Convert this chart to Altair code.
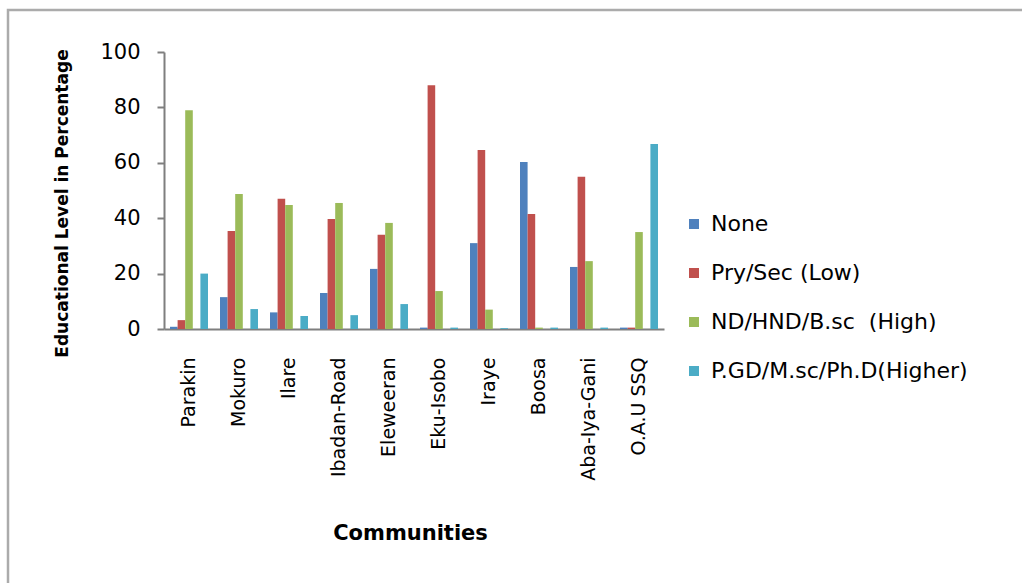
import altair as alt
import pandas as pd

communities = ["Parakin", "Mokuro", "Ilare", "Ibadan-Road", "Eleweeran",
               "Eku-Isobo", "Iraye", "Boosa", "Aba-Iya-Gani", "O.A.U SSQ"]
series_names = ["None", "Pry/Sec (Low)", "ND/HND/B.sc\u00a0 (High)", "P.GD/M.sc/Ph.D(Higher)"]
colors = ["#4F81BD", "#C0504D", "#9BBB59", "#4BACC6"]
y_ticks = [0, 20, 40, 60, 80, 100]

none_vals = [0.8, 11.5, 6.0, 13.0, 21.7, 0.5, 31.0, 60.3, 22.4, 0.5]
pry_vals = [3.2, 35.4, 47.0, 39.7, 34.0, 88.0, 64.6, 41.5, 55.0, 0.5]
nd_vals = [79.0, 48.7, 44.8, 45.5, 38.3, 13.7, 7.0, 0.5, 24.5, 35.0]
pgd_vals = [20.0, 7.2, 4.7, 5.0, 9.0, 0.5, 0.3, 0.5, 0.5, 66.8]

rows = []
for vals, name in zip([none_vals, pry_vals, nd_vals, pgd_vals], series_names):
    for c, v in zip(communities, vals):
        rows.append({"Community": c, "Series": name, "Value": v})
df = pd.DataFrame(rows)

offset_domain = series_names[:3] + ["_gap"] + series_names[3:]

font = "DejaVu Sans"
axis_gray = "#7f7f7f"

yscale = alt.Scale(domain=[0, 100])

bars = alt.Chart(df).mark_bar().encode(
    x=alt.X("Community:N", sort=communities,
            scale=alt.Scale(paddingInner=0.24, paddingOuter=0.12),
            axis=alt.Axis(title="Communities", labelAngle=-90, labelAlign="right",
                          labelBaseline="middle", labelPadding=28, ticks=False,
                          labelFont=font, labelFontSize=19, labelColor="#000",
                          titleFont=font, titleFontSize=21, titleFontWeight="bold",
                          titleColor="#000", titleY=204, titleX=246,
                          titleBaseline="middle", titleAnchor="start", titleAlign="center",
                          domainColor=axis_gray, domainWidth=2)),
    xOffset=alt.XOffset("Series:N", scale=alt.Scale(domain=offset_domain)),
    y=alt.Y("Value:Q", scale=yscale,
            axis=alt.Axis(title="Educational Level in Percentage", values=y_ticks,
                          grid=False, domain=True, ticks=True, tickSize=7,
                          tickColor=axis_gray, tickWidth=2, tickOpacity=1,
                          domainColor=axis_gray, domainWidth=2, domainOpacity=1,
                          labelPadding=17,
                          labelFont=font, labelFontSize=21,
                          labelColor="#000", titleFont=font, titleFontSize=17,
                          titleFontWeight="bold", titleColor="#000", titleX=-102, titleY=151,
                          titleBaseline="middle", titleAlign="center", titleAnchor="start")),
    color=alt.Color("Series:N", scale=alt.Scale(domain=series_names, range=colors),
                    sort=series_names,
                    legend=alt.Legend(title=None, orient="none", legendX=519, legendY=161,
                                      symbolType="square", symbolSize=100, symbolStrokeWidth=0,
                                      labelFont=font, labelFontSize=22, labelColor="#000",
                                      labelOffset=6, rowPadding=27, padding=0,
                                      labelLimit=400)),
)

frame = alt.Chart(alt.Data(values=[{}])).mark_rect(
    fill="transparent", fillOpacity=0, stroke="#ababab", strokeWidth=2.5
).encode(
    x=alt.value(-156), x2=alt.value(900), y=alt.value(-42), y2=alt.value(600)
)

chart = alt.layer(frame, bars).properties(
    width=500, height=277,
    autosize=alt.AutoSizeParams(type="none"),
    padding={"left": 164, "top": 52, "right": 358, "bottom": 254},
    background="white",
).configure_view(stroke=None)

chart.save("out.html", embed_options={"renderer": "svg", "actions": False})
